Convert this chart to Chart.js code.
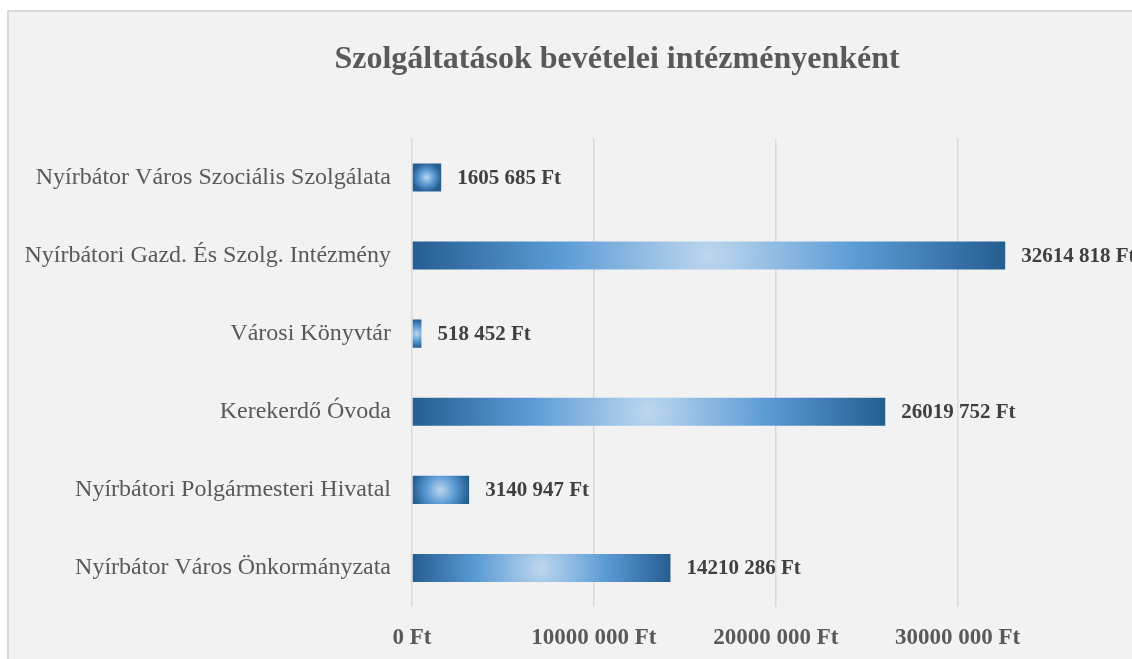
<!DOCTYPE html>
<html>
<head>
<meta charset="utf-8">
<script src="https://cdn.jsdelivr.net/npm/chart.js@4.4.1/dist/chart.umd.min.js"></script>
<style>
  html, body { margin: 0; padding: 0; background: #ffffff; overflow: hidden; }
  #box {
    position: absolute; left: 7px; top: 10px;
    width: 1216px; height: 680px;
    border-left: 2px solid #d9d9d9; border-top: 2px solid #d9d9d9;
    background: #f2f2f2;
  }
  #chart { display: block; }
</style>
</head>
<body>
<div id="box"><canvas id="chart" width="1216" height="680"></canvas></div>
<script>
const categories = [
  "Nyírbátor Város Szociális Szolgálata",
  "Nyírbátori Gazd. És Szolg. Intézmény",
  "Városi Könyvtár",
  "Kerekerdő Óvoda",
  "Nyírbátori Polgármesteri Hivatal",
  "Nyírbátor Város Önkormányzata"
];
const revenues = [1605685, 32614818, 518452, 26019752, 3140947, 14210286];
const tickValues = [0, 10000000, 20000000, 30000000];

// Excel-style format from the sheet: only the last group is separated
function formatFt(v) {
  if (v < 1000) return v + " Ft";
  const head = Math.floor(v / 1000);
  const tail = String(v % 1000).padStart(3, "0");
  return head + " " + tail + " Ft";
}

const serif = "'Liberation Serif', 'Times New Roman', serif";
const BAR_FRACTION = 0.36; // barPercentage * categoryPercentage

// Radial gradient per bar (light center, darker edges), built from the scales
function barFill(context) {
  const chart = context.chart;
  const xs = chart.scales.x, ys = chart.scales.y;
  if (!chart.chartArea || !xs || !ys || context.dataIndex === undefined) return "#5b9bd5";
  const x0 = xs.getPixelForValue(0);
  const x1 = xs.getPixelForValue(context.raw);
  const yc = ys.getPixelForValue(context.dataIndex);
  const h = (ys.height / categories.length) * BAR_FRACTION;
  const w = Math.abs(x1 - x0);
  const cx = Math.min(x0, x1) + w / 2;
  const r = Math.max(w / 2, h / 2);
  const g = chart.ctx.createRadialGradient(cx, yc, 0, cx, yc, r);
  g.addColorStop(0, "#bdd7ee");
  g.addColorStop(0.5, "#5b9bd5");
  g.addColorStop(1, "#255e91");
  return g;
}

// Value labels to the right of each bar
const valueLabels = {
  id: "valueLabels",
  afterDatasetsDraw(chart) {
    const ctx = chart.ctx;
    ctx.save();
    ctx.font = "bold 21px " + serif;
    ctx.fillStyle = "#404040";
    ctx.textBaseline = "middle";
    ctx.textAlign = "left";
    chart.getDatasetMeta(0).data.forEach((bar, i) => {
      ctx.fillText(formatFt(revenues[i]), bar.x + 16, bar.y + 1);
    });
    ctx.restore();
  }
};

new Chart(document.getElementById("chart").getContext("2d"), {
  type: "bar",
  data: {
    labels: categories,
    datasets: [{
      data: revenues,
      backgroundColor: barFill,
      borderWidth: 0,
      barPercentage: 0.6,
      categoryPercentage: 0.6
    }]
  },
  options: {
    indexAxis: "y",
    responsive: false,
    animation: false,
    layout: { padding: 0 },
    plugins: {
      legend: { display: false },
      tooltip: { enabled: false },
      title: {
        display: true,
        text: "Szolgáltatások bevételei intézményenként",
        color: "#595959",
        font: { family: serif, size: 32, weight: "bold" },
        padding: { top: 29, bottom: 59 }
      }
    },
    scales: {
      x: {
        min: 0,
        max: 44700000, // the original box runs on past the right edge of the picture
        afterBuildTicks(scale) {
          scale.ticks = tickValues.map(v => ({ value: v }));
        },
        afterFit(scale) { scale.height = 85; },
        grid: { color: "#d9d9d9", lineWidth: 1.5, drawTicks: false },
        border: { display: false },
        ticks: {
          padding: 17,
          color: "#595959",
          font: { family: serif, size: 23, weight: "bold" },
          callback: v => formatFt(v)
        }
      },
      y: {
        afterFit(scale) { scale.width = 403; },
        grid: { display: false, drawTicks: false },
        border: { display: false },
        ticks: {
          padding: 21,
          color: "#595959",
          font: { family: serif, size: 24 }
        }
      }
    }
  },
  plugins: [valueLabels]
});
</script>
</body>
</html>
